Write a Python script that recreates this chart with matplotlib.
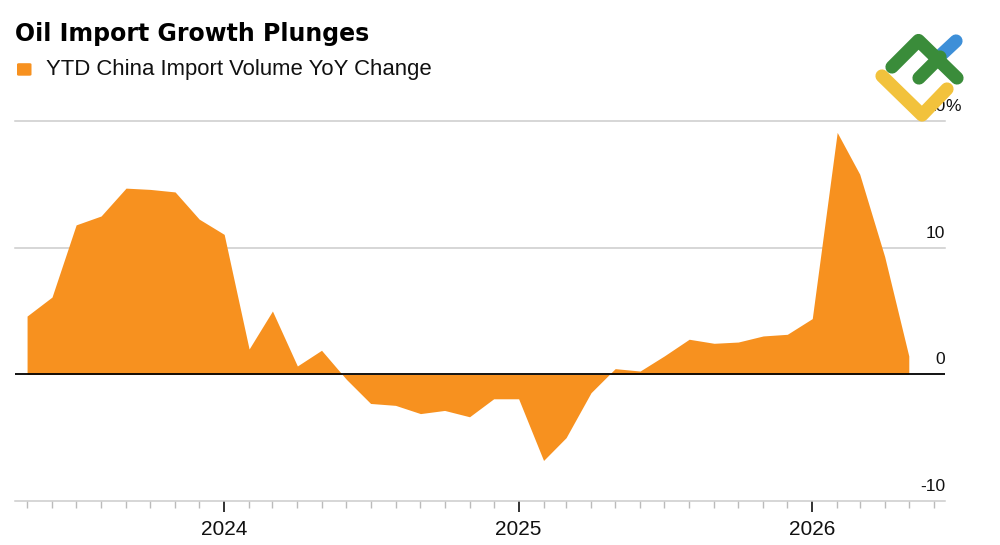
import matplotlib
matplotlib.use("Agg")
import matplotlib.pyplot as plt
import matplotlib.dates as mdates
from matplotlib.patches import FancyBboxPatch
from matplotlib.lines import Line2D
from matplotlib.transforms import offset_copy
import pandas as pd

# ---- data ----
months = pd.date_range("2023-05-01", "2026-05-01", freq="MS")
yoy_change = [4.6, 6.1, 11.8, 12.5, 14.7, 14.6, 14.4, 12.25, 11.05,
              2.0, 5.0, 0.66, 1.9, -0.4, -2.3, -2.45, -3.1, -2.85, -3.35,
              -1.93, -1.93, -6.8, -5.0, -1.45, 0.45, 0.26, 1.45, 2.77,
              2.45, 2.55, 3.03, 3.16, 4.4, 19.1, 15.8, 9.3, 1.45]
ytick_vals = [20, 10, 0, -10]
ytick_labels = ["20", "10", "0", "-10"]
year_ticks = pd.to_datetime(["2024-01-01", "2025-01-01", "2026-01-01"])
year_labels = ["2024", "2025", "2026"]
title = "Oil Import Growth Plunges"
series_name = "YTD China Import Volume YoY Change"

ORANGE = "#F7911F"
GRID = "#cccccc"
FONT = "Liberation Sans"

W, H = 1000, 545
fig = plt.figure(figsize=(W / 100, H / 100), dpi=100)
ax = fig.add_axes([15 / W, 1 - 501 / H, 930 / W, 380 / H])

ax.set_xlim(pd.Timestamp("2023-04-16"), pd.Timestamp("2026-06-15"))
ax.set_ylim(-10, 20)

ax.fill_between(months, 0, yoy_change, color=ORANGE, linewidth=0, zorder=2)

for v in ytick_vals:
    if v == 0:
        ax.axhline(v, color="black", lw=1.3, zorder=3)
    elif v != -10:
        ax.axhline(v, color=GRID, lw=1.1, zorder=1, clip_on=False)

for s in ["top", "left", "right"]:
    ax.spines[s].set_visible(False)
ax.spines["bottom"].set_color(GRID)
ax.spines["bottom"].set_linewidth(1.1)

ax.set_yticks([])
ax.set_xticks(year_ticks)
ax.set_xticklabels(year_labels, fontsize=15, fontfamily=FONT, color="#111111")
ax.xaxis.set_minor_locator(mdates.MonthLocator())
ax.tick_params(axis="x", which="major", length=8, width=1.3, color="#222222",
               pad=6, direction="out")
ax.tick_params(axis="x", which="minor", length=5, width=1.0, color="#bbbbbb",
               direction="out")

# y labels on the right, above the gridlines
ytrans = offset_copy(ax.get_yaxis_transform(), fig=fig, x=0, y=10, units="dots")
for v, lab in zip(ytick_vals, ytick_labels):
    ax.text(1.0, v, lab, transform=ytrans, ha="right", va="baseline",
            fontsize=12.5, fontfamily=FONT, color="#111111", clip_on=False,
            zorder=4)
    if v == max(ytick_vals):
        ax.text(1.0, v, "%", transform=ytrans, ha="left", va="baseline",
                fontsize=12.5, fontfamily=FONT, color="#111111", clip_on=False,
                zorder=4)

# title & legend
fig.text(15 / W, 1 - 40.7 / H, title, fontsize=17, fontweight="bold",
         fontfamily="DejaVu Sans", ha="left", va="baseline", color="black")
sq = FancyBboxPatch((17 / W, 1 - 75.7 / H), 14.5 / W, 12.5 / H,
                    boxstyle="round,pad=0,rounding_size=0.002",
                    transform=fig.transFigure, facecolor=ORANGE,
                    edgecolor="none")
fig.add_artist(sq)
fig.text(46 / W, 1 - 75.3 / H, series_name, fontsize=15.9, fontfamily=FONT,
         ha="left", va="baseline", color="#111111")

# watermark logo
def stroke(pts, color):
    xs = [p[0] / W for p in pts]
    ys = [1 - p[1] / H for p in pts]
    fig.add_artist(Line2D(xs, ys, transform=fig.transFigure, color=color,
                          lw=9.5, solid_capstyle="round",
                          solid_joinstyle="round", zorder=10))

stroke([(882, 76), (922, 115), (947, 89)], "#f2c23c")
stroke([(941, 55), (956, 41)], "#3d8fd8")
stroke([(892, 67), (918.5, 40.5), (957, 78)], "#3a8c3a")
stroke([(919, 78), (940, 57)], "#3a8c3a")

fig.savefig("out.png", dpi=100)
